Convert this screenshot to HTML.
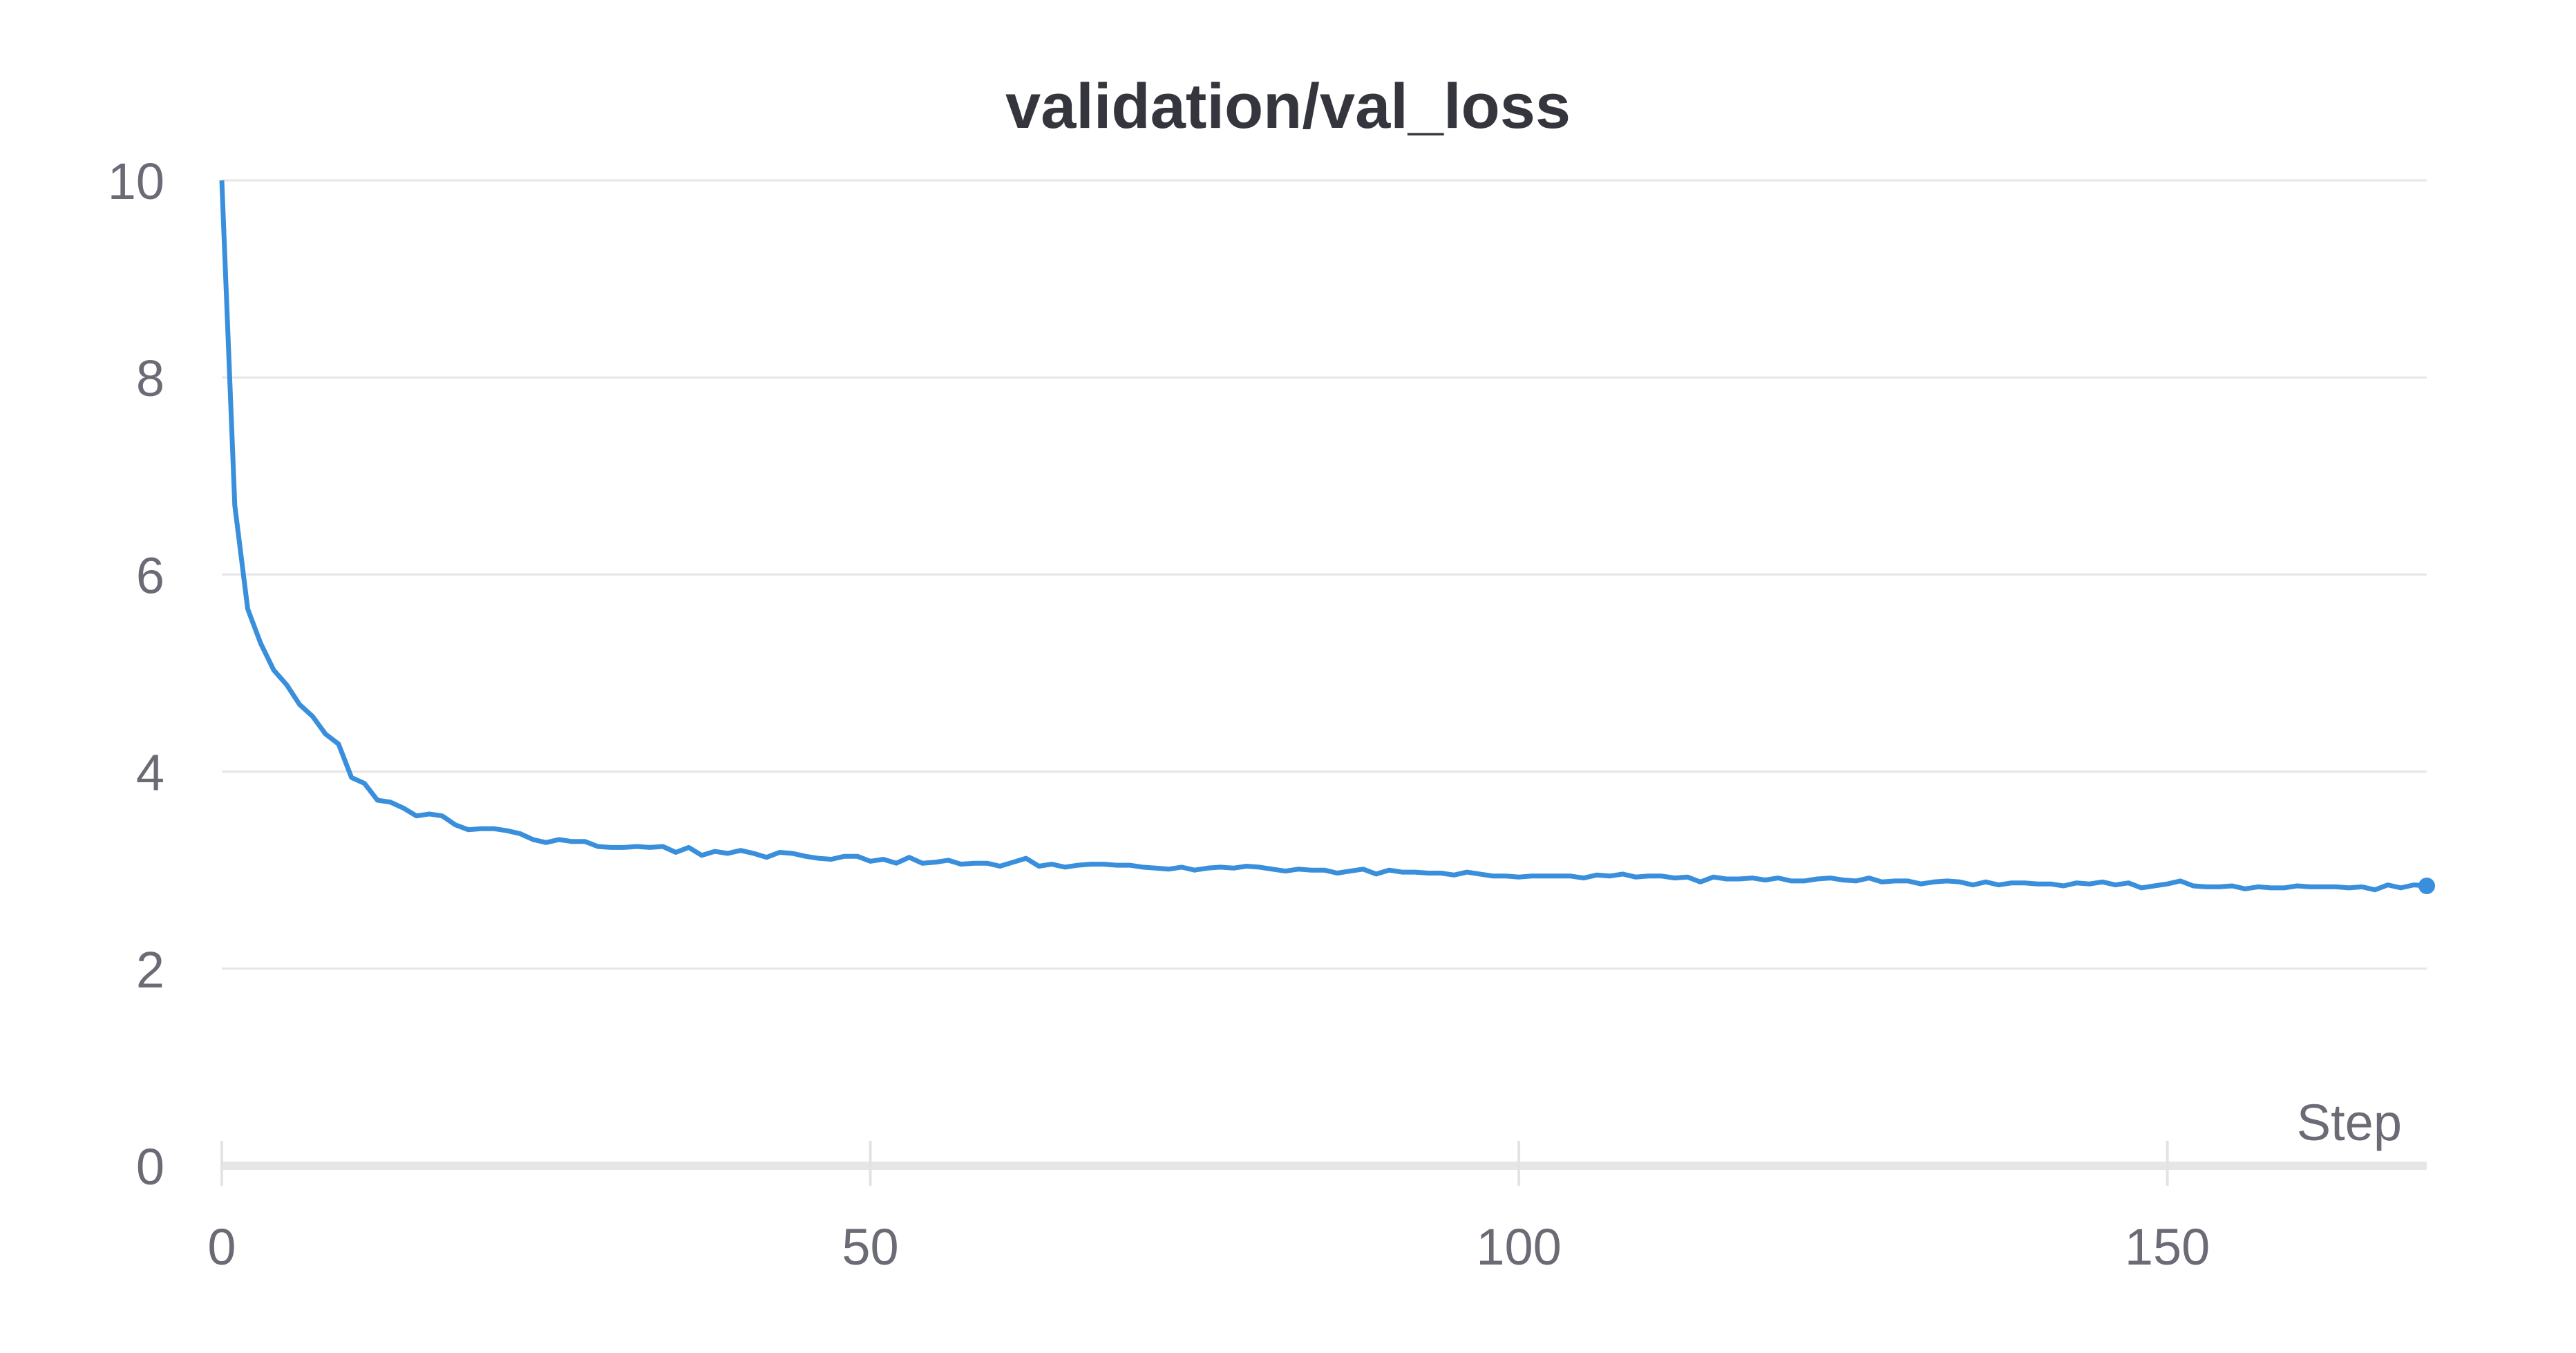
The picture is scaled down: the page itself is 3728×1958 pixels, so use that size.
<!DOCTYPE html>
<html><head><meta charset="utf-8">
<style>
html,body{margin:0;padding:0;background:#fff;}
svg{display:block;font-family:"Liberation Sans",sans-serif;}
</style></head>
<body>
<svg id="chart" width="3728" height="1958" viewBox="0 0 3728 1958" xmlns="http://www.w3.org/2000/svg">
<rect width="3728" height="1958" fill="#fff"/>
<text x="1864" y="185" text-anchor="middle" font-size="92" font-weight="bold" fill="#35353d">validation/val_loss</text>
<g id="grid"></g>
<g id="yticks"></g>
<g id="xticks"></g>
<text x="3476" y="1650" text-anchor="end" font-size="74" fill="#6b6b76">Step</text>
<g id="series"></g>
</svg>
<script>
const yTicks=[0,2,4,6,8,10];
const xTicks=[0,50,100,150];
const lossValues=[10,6.7,5.65,5.3,5.03,4.88,4.68,4.56,4.38,4.28,3.94,3.88,3.71,3.69,3.63,3.55,3.57,3.55,3.46,3.41,3.42,3.42,3.40,3.37,3.31,3.28,3.31,3.29,3.29,3.24,3.23,3.23,3.24,3.23,3.24,3.18,3.23,3.15,3.19,3.17,3.20,3.17,3.13,3.18,3.17,3.14,3.12,3.11,3.14,3.14,3.09,3.11,3.07,3.13,3.07,3.08,3.10,3.06,3.07,3.07,3.04,3.08,3.12,3.04,3.06,3.03,3.05,3.06,3.06,3.05,3.05,3.03,3.02,3.01,3.03,3.00,3.02,3.03,3.02,3.04,3.03,3.01,2.99,3.01,3.00,3.00,2.97,2.99,3.01,2.96,3.00,2.98,2.98,2.97,2.97,2.95,2.98,2.96,2.94,2.94,2.93,2.94,2.94,2.94,2.94,2.92,2.95,2.94,2.96,2.93,2.94,2.94,2.92,2.93,2.88,2.93,2.91,2.91,2.92,2.90,2.92,2.89,2.89,2.91,2.92,2.90,2.89,2.92,2.88,2.89,2.89,2.86,2.88,2.89,2.88,2.85,2.88,2.85,2.87,2.87,2.86,2.86,2.84,2.87,2.86,2.88,2.85,2.87,2.82,2.84,2.86,2.89,2.84,2.83,2.83,2.84,2.81,2.83,2.82,2.82,2.84,2.83,2.83,2.83,2.82,2.83,2.80,2.85,2.82,2.85,2.84];
const NS="http://www.w3.org/2000/svg";
const X0=321,X1=3512,XMAX=170,Y0=1687,Y10=261;
function xs(v){return X0+(X1-X0)*v/XMAX;}
function ys(v){return Y0+(Y10-Y0)*v/10;}
function mk(tag,attrs,parent){const e=document.createElementNS(NS,tag);for(const k in attrs)e.setAttribute(k,attrs[k]);parent.appendChild(e);return e;}
const grid=document.getElementById('grid'),yt=document.getElementById('yticks'),xt=document.getElementById('xticks'),ser=document.getElementById('series');
yTicks.forEach(v=>{
  if(v>0){const l=mk('line',{x1:X0,x2:X1,y1:ys(v),y2:ys(v),stroke:'#e6e6e8','stroke-width':3},grid);
  
  }
  const t=mk('text',{x:238,y:ys(v)+27,'text-anchor':'end','font-size':74,fill:'#6b6b76'},yt);
  t.textContent=v;
  
  
});
const band=mk('rect',{x:X0,y:Y0-6,width:X1-X0,height:12,fill:'#e6e6e8'},xt);


xTicks.forEach(v=>{
  const l=mk('line',{x1:xs(v),x2:xs(v),y1:1651,y2:1716,stroke:'#e3e3e5','stroke-width':4},xt);
  
  
  const t=mk('text',{x:xs(v),y:1830,'text-anchor':'middle','font-size':74,fill:'#6b6b76'},xt);
  t.textContent=v;
  
  
});
const pts=lossValues.map((v,i)=>xs(i).toFixed(1)+','+ys(v).toFixed(1)).join(' ');
const pl=mk('polyline',{points:pts,fill:'none',stroke:'#3a8fdc','stroke-width':7,'stroke-linejoin':'round'},ser);


const last=lossValues.length-1;
const dot=mk('circle',{cx:xs(last),cy:ys(lossValues[last]),r:12,fill:'#3a8fdc'},ser);


</script>
</body></html>
